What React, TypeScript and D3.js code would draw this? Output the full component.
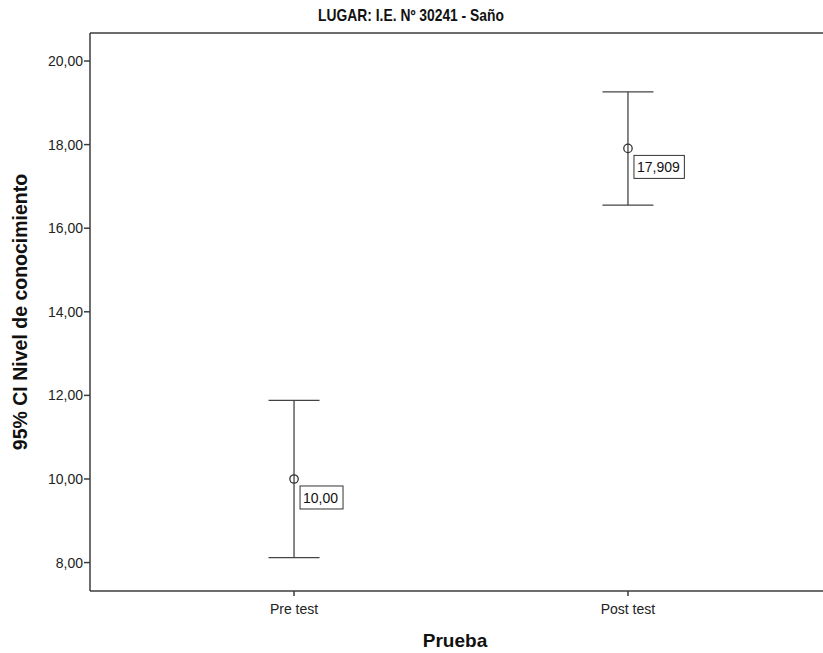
import React from "react";
import * as d3 from "d3";

const categories = ["Pre test", "Post test"];
const means = [10.0, 17.909];
const lower = [8.12, 16.55];
const upper = [11.88, 19.26];
const meanLabels = ["10,00", "17,909"];
const yTicks = [8, 10, 12, 14, 16, 18, 20];

const W = 823;
const H = 653;
const left = 90;
const top = 33;
const bottom = 591;
const right = 832;

export default function App() {
  const y = d3.scaleLinear().domain([7.32, 20.67]).range([bottom, top]);
  const x = d3.scalePoint<string>().domain(categories).range([left, right]).padding(0.611);
  const fmt = (v: number) => v.toFixed(2).replace(".", ",");
  const axisColor = "#3c3c3c";
  const font = "'Liberation Sans', Arial, sans-serif";
  return (
    <svg width={W} height={H} style={{ position: "absolute", left: 0, top: 0, background: "#fff" }}>
      <rect x={0} y={0} width={W} height={H} fill="#fff" />
      <text
        transform="translate(411, 21) scale(0.84, 1)"
        textAnchor="middle"
        fontFamily={font}
        fontWeight="bold"
        fontSize={16.5}
        fill="#111"
      >
        LUGAR: I.E. Nº 30241 - Saño
      </text>
      {/* frame */}
      <line x1={left} x2={W} y1={top} y2={top} stroke={axisColor} strokeWidth={1.5} />
      <line x1={left} x2={left} y1={top} y2={bottom} stroke={axisColor} strokeWidth={1.5} />
      <line x1={left} x2={W} y1={bottom} y2={bottom} stroke={axisColor} strokeWidth={1.5} />
      {yTicks.map((t) => (
        <g key={t}>
          <line x1={left - 6} x2={left} y1={y(t)} y2={y(t)} stroke={axisColor} strokeWidth={1.5} />
          <text x={left - 7} y={y(t) + 5} textAnchor="end" fontFamily={font} fontSize={14} fill="#222">
            {fmt(t)}
          </text>
        </g>
      ))}
      {categories.map((c) => (
        <g key={c}>
          <line x1={x(c)!} x2={x(c)!} y1={bottom} y2={bottom + 5} stroke={axisColor} strokeWidth={1.5} />
          <text x={x(c)!} y={bottom + 23} textAnchor="middle" fontFamily={font} fontSize={14} fill="#222">
            {c}
          </text>
        </g>
      ))}
      <text x={455} y={647} textAnchor="middle" fontFamily={font} fontWeight="bold" fontSize={19} fill="#111">
        Prueba
      </text>
      <text
        transform={`translate(27, ${(top + bottom) / 2}) rotate(-90)`}
        textAnchor="middle"
        fontFamily={font}
        fontWeight="bold"
        fontSize={19.5}
        fill="#111"
      >
        95% CI Nivel de conocimiento
      </text>
      {categories.map((c, i) => {
        const cx = x(c)!;
        const capW = 25.5;
        const label = meanLabels[i];
        const boxW = label.length * 7.4 + 6;
        return (
          <g key={c}>
            <line x1={cx} x2={cx} y1={y(upper[i])} y2={y(lower[i])} stroke="#444" strokeWidth={1.3} />
            <line x1={cx - capW} x2={cx + capW} y1={y(upper[i])} y2={y(upper[i])} stroke="#444" strokeWidth={1.3} />
            <line x1={cx - capW} x2={cx + capW} y1={y(lower[i])} y2={y(lower[i])} stroke="#444" strokeWidth={1.3} />
            <circle cx={cx} cy={y(means[i])} r={4.2} fill="none" stroke="#333" strokeWidth={1.3} />
            <rect x={cx + 6} y={y(means[i]) + 7} width={boxW} height={23} fill="#fff" stroke="#333" strokeWidth={1} />
            <text x={cx + 9} y={y(means[i]) + 24} fontFamily={font} fontSize={14} fill="#111">
              {label}
            </text>
          </g>
        );
      })}
    </svg>
  );
}
